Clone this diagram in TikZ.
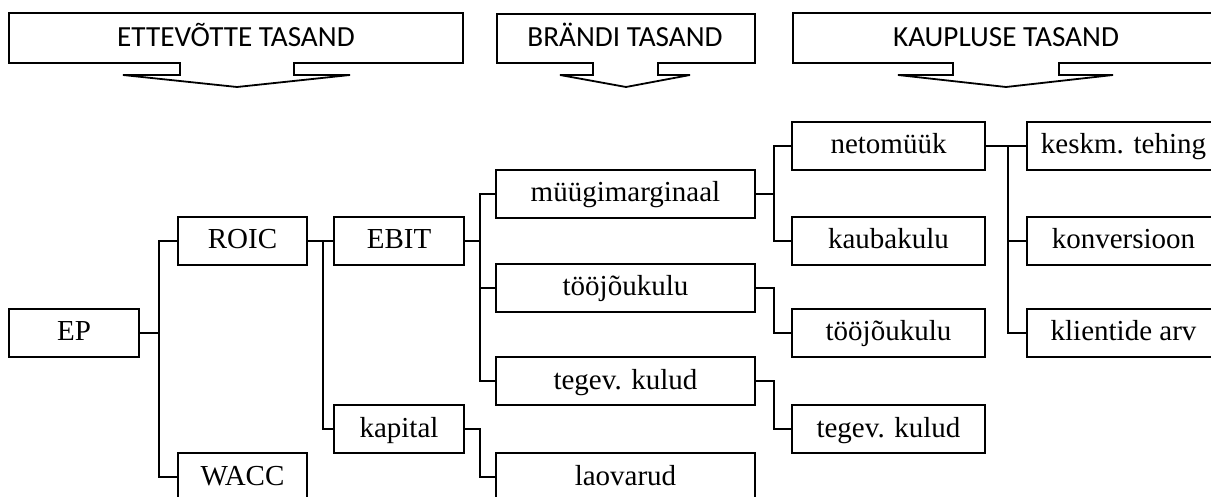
\documentclass[tikz,border=0pt]{standalone}
\usepackage{fontspec}
\setmainfont{Liberation Serif}
\newfontfamily\bannerfont{Carlito}
\begin{document}
\begin{tikzpicture}[x=1pt,y=-1pt,
  treebox/.style={draw, line width=1.8pt, rectangle, inner sep=0pt, minimum height=48pt, text height=24pt, text depth=8pt, font=\fontsize{29}{32}\selectfont},
  w1/.style={treebox, minimum width=130pt},
  w2/.style={treebox, minimum width=259pt},
  w3/.style={treebox, minimum width=193pt},
  conn/.style={line width=1.7pt},
  banner/.style={draw, line width=1.8pt, line join=miter},
  bannertext/.style={font=\bannerfont\fontsize{29.2}{32}\selectfont, inner sep=0pt, text height=26pt, text depth=8pt}]
\useasboundingbox (0,0) rectangle (1211,497);
\clip (0,0) rectangle (1211,497);
\fill[white] (0,0) rectangle (1211,497);

% banners
\draw[banner] (9,13) -- (463,13) -- (463,63) -- (294,63) -- (294,75) -- (350,75) -- (237,87) -- (123,75) -- (180,75) -- (180,63) -- (9,63) -- cycle;
\node[bannertext] (b1) at (236,38) {ETTEVÕTTE TASAND};
\draw[banner] (497,14) -- (755,14) -- (755,63) -- (658,63) -- (658,75) -- (690,75) -- (626,87) -- (560,75) -- (593,75) -- (593,63) -- (497,63) -- cycle;
\node[bannertext] (b2) at (625,38) {BRÄNDI TASAND};
\draw[banner] (793,13) -- (1219,13) -- (1219,63) -- (1059,63) -- (1059,75) -- (1113,75) -- (1006,87) -- (898,75) -- (953,75) -- (953,63) -- (793,63) -- cycle;
\node[bannertext] (b3) at (1006,38) {KAUPLUSE TASAND};

% tree nodes
\node[w1] (EP) at (74,333) {EP};
\node[treebox, minimum width=129pt] (ROIC) at (242.5,241) {ROIC};
\node[treebox, minimum width=129pt] (WACC) at (242.5,477) {WACC};
\node[w1] (EBIT) at (399,241) {EBIT};
\node[w1] (kapital) at (399,429) {kapital};
\node[w2] (mm) at (625.5,194) {müügimarginaal};
\node[w2] (tja) at (625.5,288) {tööjõukulu};
\node[w2] (tka) at (625.5,381) {tegev. kulud};
\node[w2] (lao) at (625.5,477) {laovarud};
\node[w3] (neto) at (888.5,146) {netomüük};
\node[w3] (kauba) at (888.5,241) {kaubakulu};
\node[w3] (tjb) at (888.5,333) {tööjõukulu};
\node[w3] (tkb) at (888.5,429) {tegev. kulud};
\node[w3] (kesk) at (1123.5,146) {keskm. tehing};
\node[w3] (konv) at (1123.5,241) {konversioon};
\node[w3] (klie) at (1123.5,333) {klientide arv};

% connectors
\draw[conn] (EP.east) -- ++(19,0) |- (ROIC.west);
\draw[conn] (EP.east) -- ++(19,0) |- (WACC.west);
\draw[conn] (ROIC.east) -- ++(15,0) |- (EBIT.west);
\draw[conn] (ROIC.east) -- ++(15,0) |- (kapital.west);
\draw[conn] (EBIT.east) -- ++(15,0) |- (mm.west);
\draw[conn] (EBIT.east) -- ++(15,0) |- (tja.west);
\draw[conn] (EBIT.east) -- ++(15,0) |- (tka.west);
\draw[conn] (kapital.east) -- ++(15,0) |- (lao.west);
\draw[conn] (mm.east) -- ++(18,0) |- (neto.west);
\draw[conn] (mm.east) -- ++(18,0) |- (kauba.west);
\draw[conn] (tja.east) -- ++(18,0) |- (tjb.west);
\draw[conn] (tka.east) -- ++(18,0) |- (tkb.west);
\draw[conn] (neto.east) -- ++(22,0) |- (kesk.west);
\draw[conn] (neto.east) -- ++(22,0) |- (konv.west);
\draw[conn] (neto.east) -- ++(22,0) |- (klie.west);
\end{tikzpicture}
\end{document}
